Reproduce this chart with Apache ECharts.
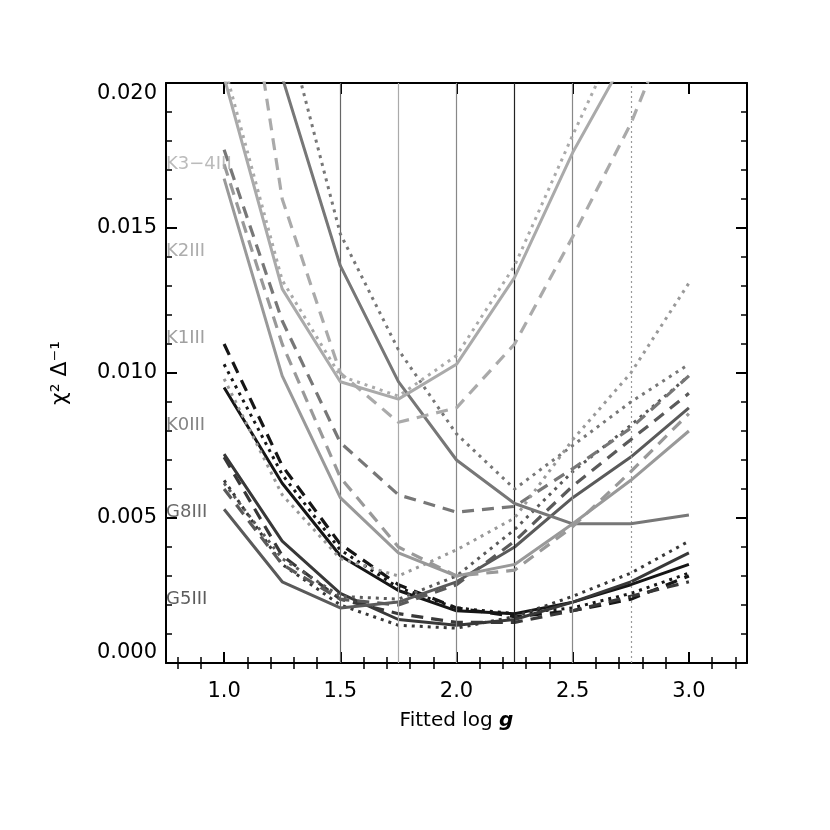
<!DOCTYPE html>
<html>
<head>
<meta charset="utf-8">
<script src="https://cdn.jsdelivr.net/npm/echarts@6/dist/echarts.min.js"></script>
<style>
  html, body { margin: 0; padding: 0; background: #fff; }
  #chart { width: 830px; height: 830px; }
</style>
</head>
<body>
<div id="chart"></div>
<script>
// fitted log g grid
var logg = [1.0, 1.25, 1.5, 1.75, 2.0, 2.25, 2.5, 2.75, 3.0];

// chi^2 / Delta (values above 0.020 run off the top)
var k34Solid  = [0.0202, 0.0129, 0.0097, 0.0091, 0.0103, 0.0133, 0.0176, 0.0212, 0.0250];
var k34Dashed = [0.0290, 0.0160, 0.0100, 0.0083, 0.0088, 0.0110, 0.0147, 0.0186, 0.0235];
var k34Dotted = [0.0206, 0.0132, 0.0099, 0.0092, 0.0106, 0.0137, 0.0182, 0.0225, 0.0270];

var k2Solid  = [0.0167, 0.0099, 0.0057, 0.0038, 0.0030, 0.0034, 0.0048, 0.0063, 0.0080];
var k2Dashed = [0.0172, 0.0110, 0.0064, 0.0040, 0.0030, 0.0032, 0.0047, 0.0066, 0.0086];
var k2Dotted = [0.0098, 0.0058, 0.0036, 0.0030, 0.0039, 0.0050, 0.0077, 0.0100, 0.0131];

var k1Solid  = [0.0310, 0.0202, 0.0137, 0.0097, 0.0070, 0.0055, 0.0048, 0.0048, 0.0051];
var k1Dashed = [0.0177, 0.0118, 0.0076, 0.0058, 0.0052, 0.0054, 0.0067, 0.0081, 0.0099];
var k1Dotted = [0.0340, 0.0225, 0.0148, 0.0108, 0.0079, 0.0060, 0.0075, 0.0090, 0.0103];

var k0Solid  = [0.0053, 0.0028, 0.0019, 0.0021, 0.0028, 0.0040, 0.0057, 0.0071, 0.0088];
var k0Dashed = [0.0060, 0.0034, 0.0022, 0.0020, 0.0027, 0.0042, 0.0061, 0.0077, 0.0093];
var k0Dotted = [0.0062, 0.0036, 0.0023, 0.0022, 0.0030, 0.0046, 0.0066, 0.0082, 0.0099];

var g8Solid  = [0.0072, 0.0042, 0.0024, 0.0015, 0.0013, 0.0015, 0.0021, 0.0028, 0.0038];
var g8Dashed = [0.0071, 0.0037, 0.0022, 0.0017, 0.0014, 0.0014, 0.0018, 0.0023, 0.0028];
var g8Dotted = [0.0063, 0.0034, 0.0020, 0.0013, 0.0012, 0.0016, 0.0023, 0.0031, 0.0042];

var g5Solid  = [0.0095, 0.0062, 0.0037, 0.0025, 0.0018, 0.0017, 0.0021, 0.0027, 0.0034];
var g5Dashed = [0.0110, 0.0068, 0.0041, 0.0027, 0.0019, 0.0016, 0.0018, 0.0022, 0.0030];
var g5Dotted = [0.0103, 0.0065, 0.0039, 0.0026, 0.0019, 0.0017, 0.0019, 0.0024, 0.0031];

var typeNames = ['K3\u22124III', 'K2III', 'K1III', 'K0III', 'G8III', 'G5III'];
var typeLabelY = [0.0172, 0.0142, 0.0112, 0.0082, 0.0052, 0.0022];

var refLogg = [1.5, 1.75, 2.0, 2.25, 2.5, 2.75];

var xMajor = [1.0, 1.5, 2.0, 2.5, 3.0];
var xMinor = [0.8, 0.9, 1.1, 1.2, 1.3, 1.4, 1.6, 1.7, 1.8, 1.9, 2.1, 2.2, 2.3, 2.4,
              2.6, 2.7, 2.8, 2.9, 3.1, 3.2];

var typeColors = ['#aaaaaa', '#999999', '#777777', '#5a5a5a', '#383838', '#161616'];
var labelColors = ['#aaaaaa', '#999999', '#888888', '#666666', '#444444', '#333333'];
var refColors = ['#666666', '#aaaaaa', '#888888', '#222222', '#888888', '#999999'];

var groups = [
    [k34Solid, k34Dashed, k34Dotted],
    [k2Solid, k2Dashed, k2Dotted],
    [k1Solid, k1Dashed, k1Dotted],
    [k0Solid, k0Dashed, k0Dotted],
    [g8Solid, g8Dashed, g8Dotted],
    [g5Solid, g5Dashed, g5Dotted]
];
var styles = [
    {type: 'solid', width: 3},
    {type: [12, 8], width: 3.2},
    {type: [3, 5], width: 3}
];

var chart = echarts.init(document.getElementById('chart'));

var font = 'DejaVu Sans';
var series = [];

// reference vertical lines
series.push({
    name: 'ref',
    type: 'line',
    data: [],
    silent: true,
    z: 1,
    markLine: {
        silent: true,
        symbol: 'none',
        label: {show: false},
        animation: false,
        data: refLogg.map(function (v, i) {
            return {
                xAxis: v,
                lineStyle: {color: refColors[i], width: 1.2, type: i == 5 ? [2, 3] : 'solid'}
            };
        })
    }
});

groups.forEach(function (g, gi) {
    g.forEach(function (vals, si) {
        series.push({
            name: typeNames[gi] + '_' + si,
            type: 'line',
            data: logg.map(function (x, k) { return [x, vals[k]]; }),
            showSymbol: false,
            symbol: 'none',
            clip: true,
            z: 2 + (5 - gi),
            lineStyle: {
                color: typeColors[gi],
                width: styles[si].width,
                type: styles[si].type,
                cap: 'butt'
            }
        });
    });
});

// spectral type labels
series.push({
    type: 'scatter',
    symbolSize: 0,
    z: 20,
    data: typeLabelY.map(function (y, i) {
        return {value: [0.75, y], name: typeNames[i], label: {color: labelColors[i]}};
    }),
    label: {
        show: true,
        position: 'right',
        distance: 0,
        formatter: function (p) { return p.name; },
        fontFamily: font,
        fontSize: 18
    }
});

var xBase = {
    type: 'value',
    min: 0.75,
    max: 3.25,
    splitLine: {show: false}
};

option = {
    animation: false,
    backgroundColor: '#fff',
    grid: {left: 166, right: 83, top: 83, bottom: 167},
    xAxis: [
        Object.assign({}, xBase, {
            position: 'bottom',
            name: 'Fitted log {g|g}',
            nameLocation: 'middle',
            nameGap: 48,
            nameTextStyle: {
                fontFamily: font, fontSize: 20, color: '#000',
                rich: {g: {fontFamily: font, fontSize: 20, fontStyle: 'italic', fontWeight: 'bold', color: '#000'}}
            },
            axisLine: {show: true, onZero: false, lineStyle: {color: '#000', width: 2}},
            axisTick: {show: true, inside: true, length: 11, customValues: xMajor, lineStyle: {color: '#000', width: 2}},
            axisLabel: {show: true, customValues: xMajor, margin: 18, fontFamily: font, fontSize: 21, color: '#000',
                formatter: function (v) { return v.toFixed(1); }}
        }),
        Object.assign({}, xBase, {
            position: 'bottom',
            axisLine: {show: false},
            axisTick: {show: true, inside: true, length: 6, customValues: xMinor, lineStyle: {color: '#000', width: 1.5}},
            axisLabel: {show: false}
        }),
        Object.assign({}, xBase, {
            position: 'top',
            axisLine: {show: true, onZero: false, lineStyle: {color: '#000', width: 2}},
            axisTick: {show: true, inside: true, length: 11, customValues: xMajor, lineStyle: {color: '#000', width: 2}},
            axisLabel: {show: false}
        }),
        Object.assign({}, xBase, {
            position: 'top',
            axisLine: {show: false},
            axisTick: {show: true, inside: true, length: 6, customValues: xMinor, lineStyle: {color: '#000', width: 1.5}},
            axisLabel: {show: false}
        })
    ],
    yAxis: [
        {
            type: 'value',
            position: 'left',
            min: 0,
            max: 0.020,
            interval: 0.005,
            name: '\u03C7\u00B2 \u0394\u207B\u00B9',
            nameLocation: 'middle',
            nameRotate: 90,
            nameGap: 95,
            nameTextStyle: {fontFamily: font, fontSize: 22, color: '#000'},
            splitLine: {show: false},
            axisLine: {show: true, onZero: false, lineStyle: {color: '#000', width: 2}},
            axisTick: {show: true, inside: true, length: 11, lineStyle: {color: '#000', width: 2}},
            minorTick: {show: true, splitNumber: 5, length: 6, lineStyle: {color: '#000', width: 1.5}},
            axisLabel: {margin: 9, fontFamily: font, fontSize: 21, color: '#000',
                verticalAlignMinLabel: 'bottom', verticalAlignMaxLabel: 'top',
                formatter: function (v) { return v.toFixed(3); }}
        },
        {
            type: 'value',
            position: 'right',
            min: 0,
            max: 0.020,
            interval: 0.005,
            splitLine: {show: false},
            axisLine: {show: true, onZero: false, lineStyle: {color: '#000', width: 2}},
            axisTick: {show: true, inside: true, length: 11, lineStyle: {color: '#000', width: 2}},
            minorTick: {show: true, splitNumber: 5, length: 6, lineStyle: {color: '#000', width: 1.5}},
            axisLabel: {show: false}
        }
    ],
    series: series
};

chart.setOption(option);
</script>
</body>
</html>
